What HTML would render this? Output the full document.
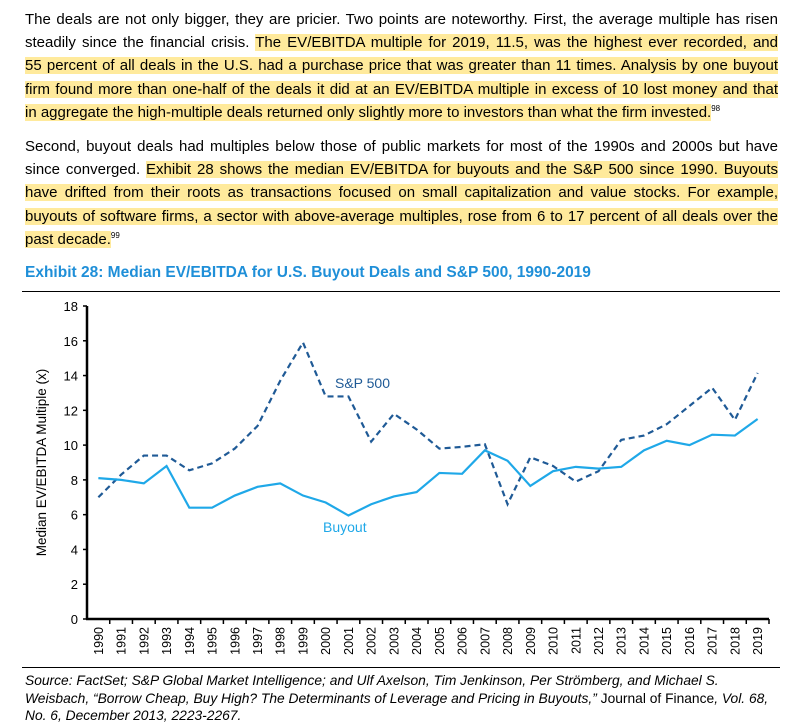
<!DOCTYPE html>
<html><head><meta charset="utf-8">
<style>
body{margin:0;background:#fff;width:811px;height:726px;overflow:hidden;font-family:"Liberation Sans",Arial,sans-serif;color:#000}
.p{position:absolute;left:25px;width:753px;font-size:15px;line-height:23.2px}
.p div{text-align:justify;text-align-last:justify;white-space:nowrap}
.p div.last{text-align-last:left}
.hl{background:#FFEA9C}
sup{font-size:8px;line-height:0}
#title{position:absolute;left:25px;top:264px;font-size:15.5px;font-weight:bold;color:#1F8FD8}
#src{position:absolute;left:25px;top:672px;width:760px;font-size:13.8px;line-height:17.5px;font-style:italic;white-space:nowrap}
</style></head><body>
<div class="p" style="top:8px">
<div>The deals are not only bigger, they are pricier. Two points are noteworthy. First, the average multiple has risen</div>
<div>steadily since the financial crisis. <span class="hl">The EV/EBITDA multiple for 2019, 11.5, was the highest ever recorded, and</span></div>
<div><span class="hl">55 percent of all deals in the U.S. had a purchase price that was greater than 11 times. Analysis by one buyout</span></div>
<div><span class="hl">firm found more than one-half of the deals it did at an EV/EBITDA multiple in excess of 10 lost money and that</span></div>
<div class="last"><span class="hl">in aggregate the high-multiple deals returned only slightly more to investors than what the firm invested.</span><sup>98</sup></div>
</div>
<div class="p" style="top:135px">
<div>Second, buyout deals had multiples below those of public markets for most of the 1990s and 2000s but have</div>
<div>since converged. <span class="hl">Exhibit 28 shows the median EV/EBITDA for buyouts and the S&amp;P 500 since 1990. Buyouts</span></div>
<div><span class="hl">have drifted from their roots as transactions focused on small capitalization and value stocks. For example,</span></div>
<div><span class="hl">buyouts of software firms, a sector with above-average multiples, rose from 6 to 17 percent of all deals over the</span></div>
<div class="last"><span class="hl">past decade.</span><sup>99</sup></div>
</div>
<div id="title">Exhibit 28: Median EV/EBITDA for U.S. Buyout Deals and S&amp;P 500, 1990-2019</div>
<div style="position:absolute;left:22px;top:291px;width:758px;height:1px;background:#000"></div>
<svg id="chart" width="811" height="726" style="position:absolute;left:0;top:0"></svg>
<div style="position:absolute;left:22px;top:667px;width:758px;height:1px;background:#000"></div>
<div id="src">Source: FactSet; S&amp;P Global Market Intelligence; and Ulf Axelson, Tim Jenkinson, Per Strömberg, and Michael S.<br>Weisbach, “Borrow Cheap, Buy High? The Determinants of Leverage and Pricing in Buyouts,” <span style="font-style:normal">Journal of Finance</span>, Vol. 68,<br>No. 6, December 2013, 2223-2267.</div>
<script>
const years=[1990,1991,1992,1993,1994,1995,1996,1997,1998,1999,2000,2001,2002,2003,2004,2005,2006,2007,2008,2009,2010,2011,2012,2013,2014,2015,2016,2017,2018,2019];
const buyout=[8.1,8.0,7.8,8.8,6.4,6.4,7.1,7.6,7.8,7.1,6.7,5.95,6.6,7.05,7.3,8.4,8.35,9.7,9.1,7.65,8.5,8.75,8.65,8.75,9.7,10.25,10.0,10.6,10.55,11.5];
const sp500=[7.0,8.3,9.4,9.4,8.55,8.95,9.8,11.1,13.7,15.9,12.8,12.8,10.2,11.8,10.9,9.8,9.9,10.05,6.6,9.3,8.8,7.9,8.5,10.3,10.55,11.2,12.25,13.3,11.45,14.15];
const yTicks=[0,2,4,6,8,10,12,14,16,18];
const svg=document.getElementById('chart');const NS='http://www.w3.org/2000/svg';
const X0=87,X1=769,Y0=619,Y1=306;
const bw=(X1-X0)/years.length;
function x(i){return X0+bw*(i+0.5);}
function y(v){return Y0-(v/18)*(Y0-Y1);}
function mk(t,a){const e=document.createElementNS(NS,t);for(const k in a)e.setAttribute(k,a[k]);svg.appendChild(e);return e;}
let e;
e=mk('line',{x1:X0,y1:Y1,x2:X0,y2:Y0,stroke:'#000','stroke-width':2.5});


e=mk('line',{x1:X0-1,y1:Y0,x2:X1,y2:Y0,stroke:'#000','stroke-width':2.5});


yTicks.forEach(v=>{
 e=mk('line',{x1:X0-4,y1:y(v),x2:X0,y2:y(v),stroke:'#000','stroke-width':1.5});
 
 
 e=mk('text',{x:X0-9,y:y(v)+5,'text-anchor':'end','font-size':13,'font-family':'Liberation Sans, Arial, sans-serif'});
 e.textContent=v;
 
 
});
years.forEach((yr,i)=>{
 e=mk('line',{x1:X0+bw*(i+1),y1:Y0,x2:X0+bw*(i+1),y2:Y0+5,stroke:'#000','stroke-width':1.5});
 
 
 e=mk('text',{x:0,y:0,'text-anchor':'end','font-size':12.5,'font-family':'Liberation Sans, Arial, sans-serif',transform:`translate(${x(i)+4.5},${Y0+8}) rotate(-90)`});
 e.textContent=yr;
 
 
});
e=mk('text',{x:0,y:0,'text-anchor':'middle','font-size':13.5,'font-family':'Liberation Sans, Arial, sans-serif',transform:`translate(46,${(Y0+Y1)/2}) rotate(-90)`});
e.textContent='Median EV/EBITDA Multiple (x)';


e=mk('polyline',{points:sp500.map((v,i)=>x(i)+','+y(v)).join(' '),fill:'none',stroke:'#1F5A96','stroke-width':2.2,'stroke-dasharray':'6,4'});


e=mk('polyline',{points:buyout.map((v,i)=>x(i)+','+y(v)).join(' '),fill:'none',stroke:'#1FA8E8','stroke-width':2.2});


e=mk('text',{x:335,y:388,'font-size':14,fill:'#1F5A96','font-family':'Liberation Sans, Arial, sans-serif'});
e.textContent='S&P 500';


e=mk('text',{x:323,y:532,'font-size':14,fill:'#1FA8E8','font-family':'Liberation Sans, Arial, sans-serif'});
e.textContent='Buyout';


</script>
</body></html>
